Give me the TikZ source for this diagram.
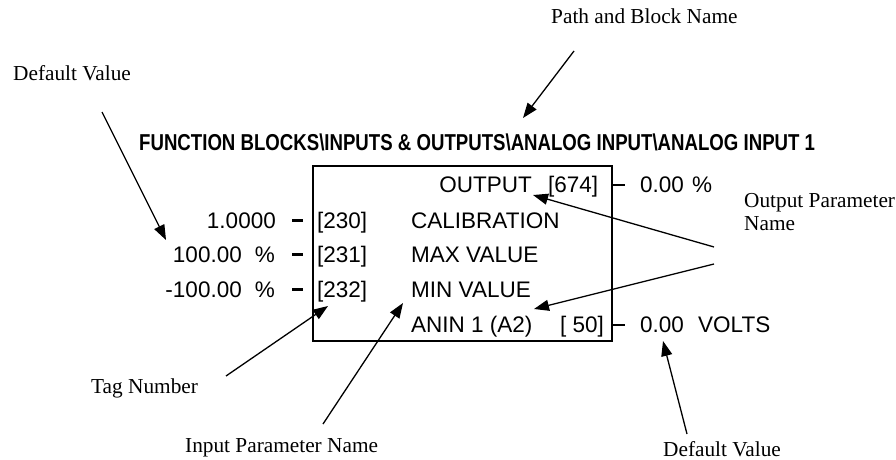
\documentclass[tikz,border=0pt]{standalone}
\usepackage{fontspec}
\usepackage{graphicx}
\setmainfont{Liberation Serif}
\newfontfamily\arial{Liberation Sans}
\usetikzlibrary{arrows.meta}
\tikzset{
  ann/.style={font=\fontsize{21.3}{22.5}\selectfont, inner sep=0pt},
  sans/.style={font=\arial\fontsize{22.5}{27}\selectfont, inner sep=0pt},
  ptr/.style={line width=1.3pt, -{Triangle[length=15pt,width=11pt]}},
  stub/.style={line width=2.2pt},
  rstub/.style={line width=1.4pt},
}
\begin{document}
\begin{tikzpicture}[x=1pt,y=-1pt]
\useasboundingbox (0,0) rectangle (896,460);
% heading
\node[font=\arial\bfseries\fontsize{23}{28}\selectfont, inner sep=0pt, anchor=base west] (head) at (139,150)
  {\scalebox{0.81}[1]{FUNCTION BLOCKS\textbackslash INPUTS \& OUTPUTS\textbackslash ANALOG INPUT\textbackslash ANALOG INPUT 1}};
% block
\node[draw, line width=1.4pt, minimum width=299pt, minimum height=175pt, inner sep=0pt] (box) at (462.5,253.5) {};
% in-box texts
\node[sans, anchor=base east] (out) at (532,192) {OUTPUT};
\node[sans, anchor=base west] (t674) at (548,192) {[674]};
\node[sans, anchor=base west] (t230) at (317,228) {[230]};
\node[sans, anchor=base west] (t231) at (317,262) {[231]};
\node[sans, anchor=base west] (t232) at (317,297) {[232]};
\node[sans, anchor=base west] (cal) at (411,228) {CALIBRATION};
\node[sans, anchor=base west] (maxv) at (411,262) {MAX VALUE};
\node[sans, anchor=base west] (minv) at (411,297) {MIN VALUE};
\node[sans, anchor=base west] (anin) at (411,332) {ANIN 1 (A2)};
\node[sans, anchor=base west] (t50) at (560,332) {[ 50]};
% left values
\node[sans, anchor=base east] (v1) at (276,228) {1.0000};
\node[sans, anchor=base east] (v2) at (242,262) {100.00};
\node[sans, anchor=base east] (p2) at (275,262) {\%};
\node[sans, anchor=base east] (v3) at (242,297) {-100.00};
\node[sans, anchor=base east] (p3) at (275,297) {\%};
% right values
\node[sans, anchor=base west] (vo) at (640,192) {0.00};
\node[sans, anchor=base west] (po) at (692,192) {\%};
\node[sans, anchor=base west] (vv) at (640,332) {0.00};
\node[sans, anchor=base west] (volts) at (698,332) {VOLTS};
% stubs
\coordinate (s1a) at (292,220.5); \coordinate (s1b) at (303,220.5);
\coordinate (s2a) at (292,254.5); \coordinate (s2b) at (303,254.5);
\coordinate (s3a) at (292,289.5); \coordinate (s3b) at (303,289.5);
\draw[stub] (s1a) -- (s1b);
\draw[stub] (s2a) -- (s2b);
\draw[stub] (s3a) -- (s3b);
\coordinate (r1) at (625,185); \coordinate (r2) at (625,325);
\draw[rstub] (box.east |- r1) -- (r1);
\draw[rstub] (box.east |- r2) -- (r2);
% annotations
\node[ann, anchor=base west] (dv1) at (13,80) {Default Value};
\node[ann, anchor=base west] (pbn) at (551,24) {Path and Block Name};
\node[ann, anchor=base west, align=left] (opn) at (744,230) {Output Parameter\\Name};
\node[ann, anchor=base west] (tag) at (91,393) {Tag Number};
\node[ann, anchor=base west] (ipn) at (185,452) {Input Parameter Name};
\node[ann, anchor=base west] (dv2) at (663,456.5) {Default Value};
% arrow coordinates
\coordinate (a1s) at (102,112); \coordinate (a1e) at (166,240);
\coordinate (a2s) at (574,51);  \coordinate (a2e) at (523,118);
\coordinate (a3s) at (714,247); \coordinate (a3e) at (533,195);
\coordinate (a4s) at (714,264); \coordinate (a4e) at (534,309);
\coordinate (a5s) at (226,376); \coordinate (a5e) at (328,306);
\coordinate (a6s) at (323,424); \coordinate (a6e) at (403,303);
\coordinate (a7s) at (687,434); \coordinate (a7e) at (663,341);
\draw[ptr] (a1s) -- (a1e);
\draw[ptr] (a2s) -- (a2e);
\draw[ptr] (a3s) -- (a3e);
\draw[ptr] (a4s) -- (a4e);
\draw[ptr] (a5s) -- (a5e);
\draw[ptr] (a6s) -- (a6e);
\draw[ptr] (a7s) -- (a7e);
\end{tikzpicture}
\end{document}
